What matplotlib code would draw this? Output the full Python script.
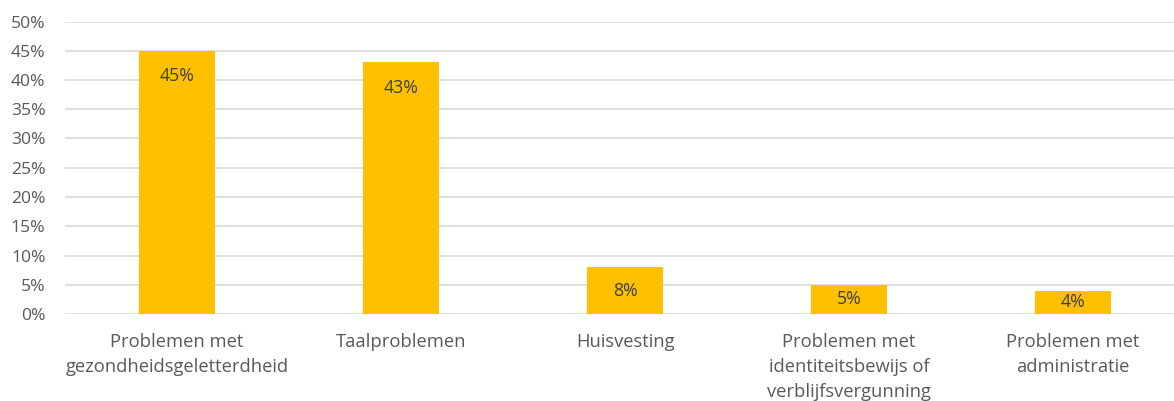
import matplotlib
matplotlib.use("Agg")
import matplotlib.pyplot as plt
import numpy as np

categories = ["Problemen met\ngezondheidsgeletterdheid", "Taalproblemen", "Huisvesting",
              "Problemen met\nidentiteitsbewijs of\nverblijfsvergunning", "Problemen met\nadministratie"]
values = [45, 43, 8, 5, 4]
yticks = [0, 5, 10, 15, 20, 25, 30, 35, 40, 45, 50]

plt.rcParams['font.family'] = ['Open Sans', 'DejaVu Sans']
text_color = "#595959"

fig = plt.figure(figsize=(11.74, 4.01), dpi=100)
ax = fig.add_axes([65/1174, 87/401, 1120/1174, 292.5/401])

x = np.arange(len(categories))
ax.bar(x, values, width=0.34, color="#FFC000", zorder=3)

ax.set_xlim(-0.5, len(categories) - 0.5)
ax.set_ylim(0, 50)
ax.set_yticks(yticks)
ax.set_yticklabels([f"{v}%" for v in yticks])
ax.set_xticks(x)
ax.set_xticklabels(categories, linespacing=1.5)
ax.grid(axis="y", color="#D9D9D9", linewidth=1.2, zorder=0)
ax.tick_params(axis="y", length=0, pad=14, labelsize=12.6, labelcolor=text_color)
ax.tick_params(axis="x", length=0, pad=14, labelsize=13.2, labelcolor=text_color)
for s in ax.spines.values():
    s.set_visible(False)

for xi, v in zip(x, values):
    ypos = max(v - 4.4, v / 2)
    ax.text(xi, ypos, f"{v}%", ha="center", va="center", fontsize=12.8, color="#404040", zorder=4)

fig.savefig("out.png", dpi=100)
